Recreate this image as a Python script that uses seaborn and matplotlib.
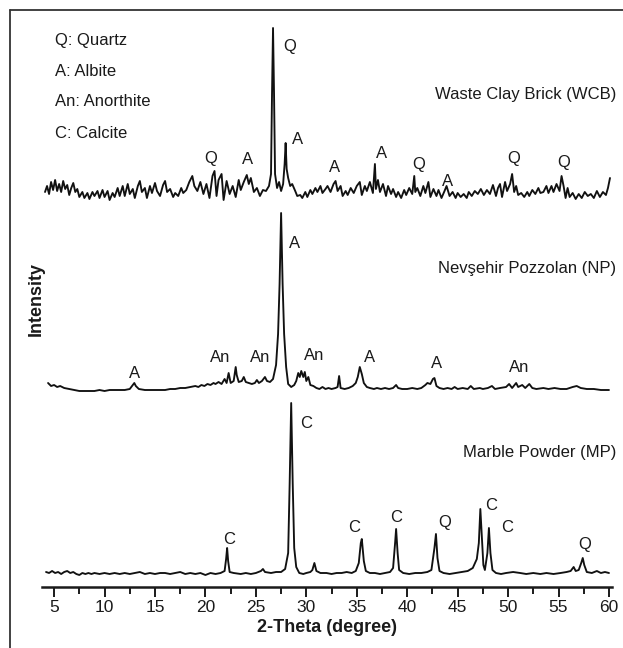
"""
XRD patterns: Waste Clay Brick, Nevsehir Pozzolan, Marble Powder
"""

import numpy as np
import pandas as pd
import matplotlib
matplotlib.use("Agg")
import matplotlib.pyplot as plt
from matplotlib.lines import Line2D
from matplotlib.ticker import MultipleLocator
import seaborn as sns

# ==============================
# 1. Data (2-theta, intensity above each baseline)
# ==============================
wcb_theta = [4.1, 4.3, 4.5, 4.7, 4.9, 5.1, 5.3, 5.5, 5.7, 5.9, 6.1, 6.3, 6.5, 6.7, 6.9, 7.1, 7.3, 7.5,
             7.8, 8.0, 8.3, 8.5, 8.8, 9.0, 9.3, 9.5, 9.8, 10.0, 10.3, 10.5, 10.8, 11.0, 11.3, 11.5,
             11.8, 12.0, 12.3, 12.5, 12.8, 13.0, 13.3, 13.5, 13.7, 14.0, 14.2, 14.5, 14.7, 15.0, 15.2,
             15.5, 15.8, 16.0, 16.2, 16.5, 16.8, 17.0, 17.3, 17.6, 17.8, 18.1, 18.4, 18.7, 18.9, 19.2,
             19.5, 19.8, 20.1, 20.4, 20.7, 20.9, 21.1, 21.3, 21.6, 21.8, 22.1, 22.4, 22.7, 23.0, 23.3,
             23.5, 23.8, 24.1, 24.3, 24.5, 24.8, 25.1, 25.4, 25.7, 26.0, 26.3, 26.5, 26.6, 26.7, 26.8,
             26.9, 27.1, 27.3, 27.5, 27.7, 27.85, 27.95, 28.05, 28.2, 28.4, 28.6, 28.9, 29.1, 29.4,
             29.6, 29.9, 30.1, 30.4, 30.6, 30.9, 31.1, 31.4, 31.6, 31.9, 32.1, 32.4, 32.7, 32.9, 33.1,
             33.4, 33.6, 33.9, 34.1, 34.4, 34.7, 35.0, 35.3, 35.5, 35.8, 36.0, 36.3, 36.6, 36.8, 36.9,
             37.1, 37.3, 37.6, 37.9, 38.1, 38.4, 38.6, 38.9, 39.1, 39.4, 39.7, 39.9, 40.2, 40.5, 40.7,
             40.8, 41.0, 41.3, 41.6, 41.8, 42.1, 42.3, 42.6, 42.9, 43.1, 43.4, 43.7, 43.9, 44.2, 44.5,
             44.8, 45.0, 45.3, 45.6, 45.9, 46.1, 46.4, 46.7, 47.0, 47.3, 47.6, 47.9, 48.2, 48.5, 48.8,
             49.0, 49.2, 49.4, 49.7, 49.9, 50.2, 50.4, 50.6, 50.8, 51.0, 51.3, 51.6, 51.9, 52.1, 52.4,
             52.7, 53.0, 53.2, 53.5, 53.8, 54.0, 54.3, 54.5, 54.8, 55.1, 55.3, 55.5, 55.7, 55.9, 56.1,
             56.4, 56.7, 57.0, 57.3, 57.6, 57.9, 58.2, 58.5, 58.8, 59.1, 59.4, 59.7, 59.9, 60.1]
wcb_int = [2, 8, 0, 12, 4, 14, 3, 10, 2, 13, 5, 9, -1, 6, 11, 2, 5, -3,
           2, -4, 1, -5, 2, -2, 3, -4, 4, -3, 3, -6, 1, -3, 6, -2,
           8, -2, 10, 0, 5, -4, 8, 13, 2, 6, -4, 8, 1, 11, 3,
           -2, 9, 13, 2, 5, -3, 1, -2, 6, 1, 4, 12, 18, 8, 3,
           12, 0, 10, -4, 18, 23, -2, 14, 20, -6, 13, 0, 8, -3, 14,
           4, 12, 19, 10, 16, 2, 6, -2, 4, 3, 8, 20, 100, 166, 100,
           20, 6, 12, 3, 10, 30, 51, 25, 16, 8, 10, 3, -2, -1,
           -4, 2, -3, 4, 0, 6, 2, 8, 1, 5, 8, 2, 10, 13, 3,
           8, -2, 3, -1, 6, 1, 8, 12, -1, 8, 3, 12, 1, 30, 5,
           14, 2, 10, -2, 8, 0, 5, -3, 2, -4, 4, -1, 6, 0, 18,
           2, 6, -2, 8, 1, 12, -3, 5, -2, 4, -4, 3, 8, -2, 2,
           -4, 1, -3, 0, -4, 2, -2, 3, 0, 5, -1, 4, 0, 9, -2,
           6, 10, -3, 12, 3, 10, 20, 2, 8, -1, 1, -3, 2, -2, 4,
           0, 6, 1, 2, 8, 1, 8, 2, 10, 3, 18, 8, -4, 6, -3,
           1, -5, 0, -4, 2, -2, 0, -4, 3, -3, 2, -1, 6, 16]

np_theta = [4.4, 4.7, 5.0, 5.3, 5.6, 6.0, 6.5, 7.0, 7.5, 8.0, 8.5, 9.0, 9.5, 10.0, 10.5, 11.0, 11.5,
            12.0, 12.5, 12.8, 12.95, 13.1, 13.4, 14.0, 14.5, 15.0, 15.5, 16.0, 16.5, 17.0, 17.5, 18.0,
            18.5, 19.0, 19.3, 19.6, 19.9, 20.2, 20.5, 20.8, 21.0, 21.3, 21.6, 21.9, 22.1, 22.3, 22.5,
            22.8, 23.0, 23.1, 23.3, 23.6, 23.8, 24.0, 24.3, 24.6, 24.9, 25.1, 25.3, 25.6, 25.9, 26.1,
            26.4, 26.7, 27.0, 27.2, 27.35, 27.5, 27.65, 27.8, 28.0, 28.2, 28.5, 28.8, 29.0, 29.2,
            29.35, 29.5, 29.7, 29.85, 30.0, 30.2, 30.4, 30.7, 31.0, 31.3, 31.6, 31.9, 32.2, 32.5, 32.9,
            33.1, 33.25, 33.4, 33.8, 34.2, 34.6, 34.9, 35.1, 35.3, 35.5, 35.7, 36.0, 36.3, 36.7, 37.0,
            37.4, 37.8, 38.2, 38.6, 38.9, 39.1, 39.5, 40.0, 40.5, 41.0, 41.4, 41.8, 42.0, 42.3, 42.55,
            42.7, 42.9, 43.2, 43.6, 44.0, 44.4, 44.7, 45.0, 45.5, 46.0, 46.3, 46.6, 47.2, 47.5, 48.0,
            48.4, 48.7, 49.2, 49.8, 50.1, 50.4, 50.8, 51.0, 51.4, 51.7, 52.1, 52.4, 52.8, 53.5, 54.0,
            54.6, 55.2, 55.8, 56.4, 56.8, 57.2, 57.8, 58.5, 59.2, 60.0]
np_int = [6, 3, 4, 2, 3, 1, 0, -1, -2, -2, -2, -2, -1, -2, -1, -1, -1,
          -1, 0, 4, 6, 3, 0, -1, -1, -1, -1, -1, 0, 0, 1, 1,
          2, 3, 2, 4, 3, 5, 4, 6, 5, 7, 5, 10, 6, 16, 6,
          8, 22, 14, 7, 8, 12, 7, 6, 5, 6, 9, 6, 8, 12, 8,
          7, 10, 24, 55, 105, 176, 105, 55, 22, 5, 2, 4, 8, 16,
          12, 18, 12, 17, 8, 12, 4, 3, 1, 0, 2, 0, 1, 0, 1,
          2, 13, 1, 0, 1, 3, 6, 12, 22, 15, 6, 2, 1, 0, 1,
          0, 1, 0, 1, 4, 1, 0, 0, 1, 0, 1, 4, 6, 5, 10,
          11, 3, 1, 0, 1, 0, 2, 0, 1, 0, 3, 0, 1, 0, 1,
          3, 0, 1, 2, 5, 1, 6, 2, 4, 1, 5, 1, 0, 1, 0,
          1, 0, 0, 2, 3, 1, 0, 0, -1, -1]

mp_theta = [4.2, 4.5, 4.8, 5.1, 5.4, 5.7, 6.0, 6.3, 6.6, 6.9, 7.2, 7.5, 7.8, 8.1, 8.4, 8.7, 9.0, 9.5,
            10.0, 10.5, 11.0, 11.5, 12.0, 12.5, 13.0, 13.5, 14.0, 14.5, 15.0, 15.5, 16.0, 16.5, 17.0,
            17.5, 18.0, 18.5, 19.0, 19.5, 20.0, 20.5, 21.0, 21.5, 21.9, 22.05, 22.15, 22.25, 22.4,
            22.8, 23.5, 24.0, 24.5, 25.0, 25.5, 25.7, 25.9, 26.5, 27.0, 27.5, 27.9, 28.2, 28.35, 28.5,
            28.65, 28.8, 29.0, 29.3, 29.7, 30.0, 30.4, 30.6, 30.8, 31.0, 31.4, 32.0, 32.5, 33.0, 33.5,
            34.0, 34.5, 34.9, 35.2, 35.4, 35.5, 35.7, 35.9, 36.3, 36.8, 37.3, 37.8, 38.3, 38.6, 38.8,
            38.9, 39.05, 39.2, 39.6, 40.2, 40.8, 41.4, 42.0, 42.4, 42.7, 42.85, 43.0, 43.2, 43.6, 44.2,
            44.8, 45.4, 46.0, 46.5, 46.9, 47.1, 47.25, 47.4, 47.55, 47.7, 47.95, 48.1, 48.25, 48.45,
            48.8, 49.3, 49.8, 50.5, 51.2, 51.8, 52.5, 53.2, 53.8, 54.5, 55.2, 55.8, 56.2, 56.5, 56.7,
            57.0, 57.25, 57.4, 57.55, 57.8, 58.3, 58.8, 59.2, 59.6, 60.0]
mp_int = [1, 0, 2, 0, 1, -1, 1, 2, 0, 1, -1, -2, 0, -1, 0, -1, 0, -1,
          0, -1, 0, -1, 0, -1, 0, 1, -1, 0, -1, 0, 0, -1, 0,
          1, -1, 0, -1, 0, -2, 0, -1, 0, 2, 14, 25, 12, 1,
          0, -1, 0, -1, 0, 2, 4, 1, 0, 1, 1, 4, 20, 90, 170,
          90, 25, 6, 0, -1, 0, 1, 3, 10, 2, 0, 0, -1, 0, 0,
          1, 0, 2, 10, 30, 34, 12, 2, 0, 0, -1, 0, 1, 5, 30,
          44, 20, 3, 0, -1, 0, 0, 1, 3, 25, 39, 15, 2, 0, -1,
          0, 1, 2, 5, 14, 30, 64, 35, 8, 3, 20, 45, 20, 3,
          0, -1, 0, 1, 0, -1, 0, -1, 0, -1, 0, 1, 2, 6, 2,
          3, 10, 15, 8, 1, 0, 2, 0, 1, 0]

samples = ["Waste Clay Brick (WCB)", "Nevşehir Pozzolan (NP)", "Marble Powder (MP)"]
legend_lines = ["Q: Quartz", "A: Albite", "An: Anorthite", "C: Calcite"]

# phase labels: (2-theta, height above the sample baseline, text)
wcb_labels = [(28.4, 148, "Q"), (29.1, 55, "A"), (20.5, 36, "Q"), (24.2, 35, "A"),
              (32.8, 26, "A"), (37.5, 40, "A"), (41.1, 30, "Q"), (44.0, 13, "A"),
              (50.6, 35, "Q"), (55.5, 31, "Q")]
np_labels = [(28.8, 146, "A"), (13.0, 16, "A"), (21.5, 32, "An"), (25.4, 32, "An"),
             (30.8, 34, "An"), (36.3, 32, "A"), (42.9, 26, "A"), (51.1, 21, "An")]
mp_labels = [(30.0, 150, "C"), (22.3, 33, "C"), (34.7, 45, "C"), (38.9, 56, "C"),
             (43.7, 50, "Q"), (48.3, 68, "C"), (49.9, 46, "C"), (57.6, 28, "Q")]

# vertical offsets of the stacked patterns
offsets = [393, 198, 14]

df = pd.concat([
    pd.DataFrame({"theta": wcb_theta, "intensity": wcb_int, "sample": samples[0]}),
    pd.DataFrame({"theta": np_theta, "intensity": np_int, "sample": samples[1]}),
    pd.DataFrame({"theta": mp_theta, "intensity": mp_int, "sample": samples[2]}),
])
df["shifted"] = df["intensity"] + df["sample"].map(dict(zip(samples, offsets)))

# ==============================
# 2. Plot
# ==============================
sns.set_style("white")
plt.rcParams["font.family"] = ["Liberation Sans", "DejaVu Sans"]

fig = plt.figure(figsize=(6.23, 6.48), dpi=100)
ax = fig.add_axes([42 / 623, 1 - 587 / 648, 570 / 623, 577 / 648])

for s in samples:
    sub = df[df["sample"] == s]
    sns.lineplot(data=sub, x="theta", y="shifted", ax=ax, color="#111111",
                 linewidth=1.35, sort=False, estimator=None)

fs = 12
tc = "#1a1a1a"
for (labels, off) in zip([wcb_labels, np_labels, mp_labels], offsets):
    for t, h, txt in labels:
        ax.text(t, h + off, txt, ha="center", va="center", fontsize=fs, color=tc)

for s, off, h in zip(samples, offsets, [99, 120, 121]):
    ax.text(60.7, off + h, s, ha="right", va="center", fontsize=fs, color=tc)

for i, txt in enumerate(legend_lines):
    ax.text(5.1, 547 - 31 * i, txt, ha="left", va="center", fontsize=fs, color=tc)

ax.set_xlim(3.8, 60.3)
ax.set_ylim(0, 577)
ax.xaxis.set_major_locator(MultipleLocator(5))
ax.xaxis.set_minor_locator(MultipleLocator(2.5))
ax.tick_params(axis="x", which="major", length=7, width=1.4, direction="out",
               labelsize=12.5, pad=2, bottom=True, colors=tc)
ax.tick_params(axis="x", which="minor", length=5, width=1.4, direction="out", bottom=True,
               colors=tc)
ax.set_yticks([])
sns.despine(ax=ax, left=True, top=True, right=True)
ax.spines["bottom"].set_linewidth(1.8)
ax.spines["bottom"].set_color(tc)

ax.set_xlabel("2-Theta (degree)", fontsize=13, fontweight="bold", labelpad=3, color=tc)
ax.set_ylabel("Intensity", fontsize=13, fontweight="bold", color=tc)
ax.yaxis.set_label_coords(0.004, 0.50)

# frame around the picture
fig.add_artist(Line2D([10 / 623, 10 / 623], [0, 1 - 10 / 648], color="#333333", lw=1.3))
fig.add_artist(Line2D([10 / 623, 1], [1 - 10 / 648, 1 - 10 / 648], color="#333333", lw=1.3))

fig.savefig("out.png", dpi=100)
